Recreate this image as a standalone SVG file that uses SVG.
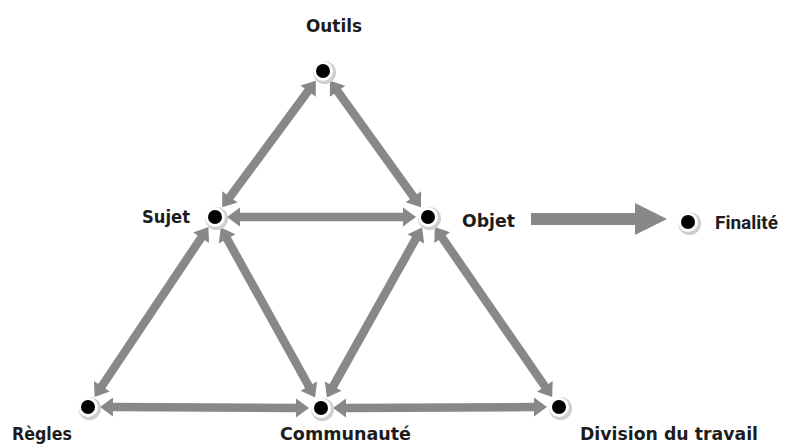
<svg xmlns="http://www.w3.org/2000/svg" width="788" height="445" viewBox="0 0 788 445">
  <style>
    .edge { stroke: #888888; stroke-width: 8.5; fill: none; marker-start: url(#head); marker-end: url(#head); }
    .lbl { font-family: "DejaVu Sans", "Liberation Sans", sans-serif; font-weight: bold; font-size: 18px; fill: #1c1c1c; }
    .narrow { font-family: Roboto, "Liberation Sans", sans-serif; font-size: 18px; }
    .shadow { fill: #cfcfcf; }
    .halo { fill: #ffffff; }
    .dot { fill: #000000; }
  </style>
  <defs>
    <marker id="head" markerUnits="userSpaceOnUse" viewBox="-2 -11 16 22" markerWidth="16" markerHeight="22" refX="0" refY="0" orient="auto-start-reverse" overflow="visible">
      <path d="M-1,-9.5 L12,0 L-1,9.5 Z" fill="#888888"/>
    </marker>
  </defs>
  <rect width="788" height="445" fill="#ffffff"/>

  <g id="connectors">
    <line class="edge" x1="308.7" y1="90.3" x2="229.3" y2="197.7"/>
    <line class="edge" x1="337.0" y1="90.5" x2="414.0" y2="197.5"/>
    <line class="edge" x1="239" y1="217" x2="404" y2="217"/>
    <line class="edge" x1="201.7" y1="237.0" x2="101.3" y2="387.0"/>
    <line class="edge" x1="226.6" y1="238.0" x2="309.3" y2="387.0"/>
    <line class="edge" x1="416.3" y1="237.9" x2="332.7" y2="387.1"/>
    <line class="edge" x1="441.6" y1="236.8" x2="545.4" y2="387.2"/>
    <line class="edge" x1="112" y1="407.1" x2="297" y2="407.9"/>
    <line class="edge" x1="345" y1="407.9" x2="535" y2="407.1"/>
    <polygon points="531,213 635,213 635,203 667,219 635,235 635,225 531,225" fill="#888888"/>
  </g>

  <g id="outils">
    <circle class="shadow" cx="324.5" cy="72.5" r="11.5"/>
    <circle class="halo" cx="323" cy="71" r="10"/>
    <circle class="dot" cx="323" cy="71" r="7"/>
    <text class="lbl" x="306" y="32" textLength="56" lengthAdjust="spacingAndGlyphs">Outils</text>
  </g>
  <g id="sujet">
    <circle class="shadow" cx="216.5" cy="218.5" r="11.5"/>
    <circle class="halo" cx="215" cy="217" r="10"/>
    <circle class="dot" cx="215" cy="217" r="7"/>
    <text class="lbl" x="142" y="223" textLength="48" lengthAdjust="spacingAndGlyphs">Sujet</text>
  </g>
  <g id="objet">
    <circle class="shadow" cx="429.5" cy="218.5" r="11.5"/>
    <circle class="halo" cx="428" cy="217" r="10"/>
    <circle class="dot" cx="428" cy="217" r="7"/>
    <text class="lbl" x="462" y="227" textLength="53" lengthAdjust="spacingAndGlyphs">Objet</text>
  </g>
  <g id="finalite">
    <circle class="shadow" cx="689.5" cy="223.5" r="11.5"/>
    <circle class="halo" cx="688" cy="222" r="10"/>
    <circle class="dot" cx="688" cy="222" r="7"/>
    <text class="lbl narrow" x="715" y="229" textLength="63" lengthAdjust="spacingAndGlyphs">Finalité</text>
  </g>
  <g id="regles">
    <circle class="shadow" cx="89.5" cy="408.5" r="11.5"/>
    <circle class="halo" cx="88" cy="407" r="10"/>
    <circle class="dot" cx="88" cy="407" r="7"/>
    <text class="lbl" x="12" y="440" textLength="60" lengthAdjust="spacingAndGlyphs">Règles</text>
  </g>
  <g id="communaute">
    <circle class="shadow" cx="322.5" cy="409.5" r="11.5"/>
    <circle class="halo" cx="321" cy="408" r="10"/>
    <circle class="dot" cx="321" cy="408" r="7"/>
    <text class="lbl" x="280" y="440" textLength="131" lengthAdjust="spacingAndGlyphs">Communauté</text>
  </g>
  <g id="division">
    <circle class="shadow" cx="560.5" cy="408.5" r="11.5"/>
    <circle class="halo" cx="559" cy="407" r="10"/>
    <circle class="dot" cx="559" cy="407" r="7"/>
    <text class="lbl" x="580" y="440" textLength="178" lengthAdjust="spacingAndGlyphs">Division du travail</text>
  </g>
</svg>
